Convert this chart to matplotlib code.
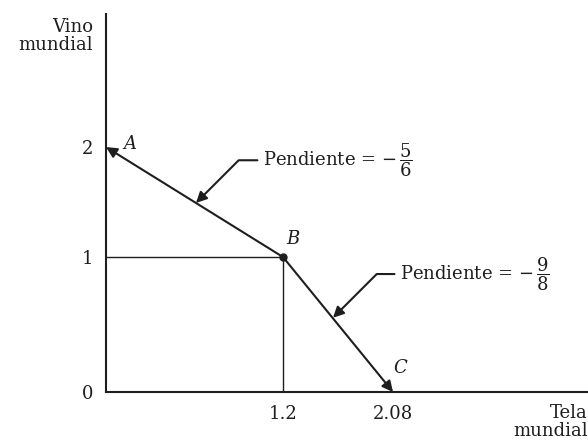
import numpy as np
import matplotlib.pyplot as plt

# frontier points A, B, C (tela mundial, vino mundial)
tela = [0.0, 1.2, 2.08]
vino = [2.0, 1.0, 0.0]
point_labels = ["A", "B", "C"]
slope_labels = [r"Pendiente = $-\,\dfrac{5}{6}$", r"Pendiente = $-\,\dfrac{9}{8}$"]

INK = "#1e1e1e"

plt.rcParams["font.family"] = "DejaVu Serif"
plt.rcParams["mathtext.fontset"] = "dejavuserif"

# the textbook sketch is not drawn to scale: piecewise-linear axes
xk = np.array([-10.0, 0.0, 1.2, 2.08, 20.0])
xp = np.array([-1470.0, 0.0, 177.0, 287.0, 287.0 + 17.92 * 125])
yk = np.array([-10.0, 0.0, 1.0, 2.0, 20.0])
yp = np.array([-1350.0, 0.0, 135.0, 245.0, 245.0 + 18 * 110])


def xf(v):
    return np.interp(v, xk, xp)


def xi(v):
    return np.interp(v, xp, xk)


def yf(v):
    return np.interp(v, yk, yp)


def yi(v):
    return np.interp(v, yp, yk)


fig = plt.figure(figsize=(5.88, 4.44), dpi=100)
ax = fig.add_axes([106 / 588, 52 / 444, 482 / 588, 378 / 444])
ax.set_xscale("function", functions=(xf, xi))
ax.set_yscale("function", functions=(yf, yi))
ax.set_xlim(0, 3.64)
ax.set_ylim(0, 3.21)

for s in ["top", "right"]:
    ax.spines[s].set_visible(False)
for s in ["left", "bottom"]:
    ax.spines[s].set_linewidth(1.5)
    ax.spines[s].set_color(INK)

# guide lines to B
ax.plot([0, tela[1]], [vino[1], vino[1]], color=INK, lw=1.0)
ax.plot([tela[1], tela[1]], [0, vino[1]], color=INK, lw=1.0)

# frontier with arrowheads at A and C
arrow = dict(arrowstyle="-|>", color=INK, lw=1.5, mutation_scale=16,
             shrinkA=0, shrinkB=0)
ax.annotate("", xy=(tela[0], vino[0]), xytext=(tela[1], vino[1]),
            arrowprops=arrow, annotation_clip=False)
ax.annotate("", xy=(tela[2], vino[2]), xytext=(tela[1], vino[1]),
            arrowprops=arrow, annotation_clip=False)
ax.plot(tela[1], vino[1], "o", color=INK, ms=5)

offsets = [(17, 2), (7, 13), (5, 17)]
for x, y, lab, off in zip(tela, vino, point_labels, offsets):
    ax.annotate(lab, (x, y), xytext=off, textcoords="offset points",
                fontsize=13, style="italic", ha="center", va="center",
                color=INK, annotation_clip=False)

# slope call-outs
pts = [(0.61, 2 - 0.61 * 5 / 6), (1.6, 1 - 0.4 * 9 / 8)]
txt = [(1.064, 1.88), (2.136, 0.874)]
for lab, p, t in zip(slope_labels, pts, txt):
    ax.annotate(lab, xy=p, xytext=t, fontsize=13, ha="left", va="center",
                color=INK,
                arrowprops=dict(arrowstyle="-|>", color=INK, lw=1.5,
                                mutation_scale=16, shrinkA=2, shrinkB=0,
                                connectionstyle="angle,angleA=0,angleB=45,rad=0"))

ax.set_xticks(tela[1:])
ax.set_xticklabels(["1.2", "2.08"])
ax.set_yticks([0, 1, 2])
ax.set_yticklabels(["0", "1", "2"])
ax.tick_params(axis="x", length=0, pad=9, labelsize=13, colors=INK)
ax.tick_params(axis="y", length=0, pad=9, labelsize=13, colors=INK)

fig.text(93 / 588, 1 - 18 / 444, "Vino\nmundial", ha="right", va="top",
         fontsize=13, color=INK, linespacing=1.0)
fig.text(1.0, 1 - 404 / 444, "Tela\nmundial", ha="right", va="top",
         fontsize=13, color=INK, linespacing=1.0)

fig.savefig("out.png", dpi=100)
